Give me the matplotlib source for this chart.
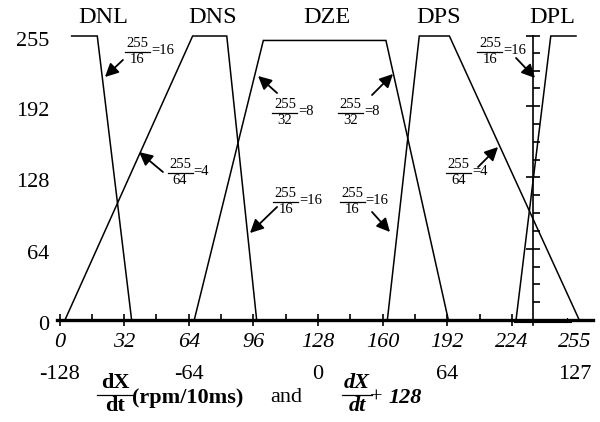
import matplotlib
matplotlib.use("Agg")
import matplotlib.pyplot as plt
import matplotlib.transforms as mtransforms
from matplotlib.ticker import FixedLocator

plt.rcParams['font.family'] = ['Liberation Serif', 'DejaVu Serif']

# membership functions (x: 0..255, degree: 0..255)
dnl_x = [6, 18.7, 35.7]
dnl_y = [255, 255, 0]
dns_x = [2.7, 65.9, 82.8, 97.6]
dns_y = [0, 255, 255, 0]
dze_x = [66.7, 100.9, 161.6, 192.5]
dze_y = [0, 251, 251, 0]
dps_x = [162.3, 178.1, 193, 257.3]
dps_y = [0, 255, 255, 0]
dpl_x = [226, 243.2, 255.7]
dpl_y = [0, 255, 255]

names = ['DNL', 'DNS', 'DZE', 'DPS', 'DPL']
name_x = [21.5, 76, 132.4, 187.9, 243.8]

x_ticks = [0, 32, 64, 96, 128, 160, 192, 224, 255]
x_labels2 = ['-128', '-64', '0', '64', '127']
x_pos2 = [0, 64, 128, 192, 255]
y_ticks = [0, 64, 128, 192, 255]

# slope notes: (numerator, denominator, rhs, bar centre, arrow tail, arrow tip)
notes = [
    ('255', '16', '=16', (38.6, 240.6), (31.4, 233.5), (22.5, 218.2)),
    ('255', '64', '=4', (59.7, 132.0), (51.2, 132.9), (39.4, 150.8)),
    ('255', '32', '=8', (111.6, 185.9), (107.7, 203.8), (98.3, 219.1)),
    ('255', '32', '=8', (144.1, 185.9), (154.7, 202.0), (165.1, 220.9)),
    ('255', '64', '=4', (197.5, 132.0), (207.2, 137.4), (217.1, 155.3)),
    ('255', '16', '=16', (213.1, 240.6), (226.0, 235.3), (235.4, 217.3)),
    ('255', '16', '=16', (111.9, 106.0), (107.7, 101.5), (94.3, 78.1)),
    ('255', '16', '=16', (145.0, 106.0), (154.7, 97.0), (163.6, 79.0)),
]

fig = plt.figure(figsize=(6, 4.22), dpi=100)
ax = fig.add_axes([0, 0, 1, 1])
ax.set_xlim(-29.46, 267.57)
ax.set_ylim(-91.59, 287.33)

for xs, ys in [(dnl_x, dnl_y), (dns_x, dns_y), (dze_x, dze_y),
               (dps_x, dps_y), (dpl_x, dpl_y)]:
    ax.plot(xs, ys, color='black', lw=1.1, solid_joinstyle='miter')

for n, nx in zip(names, name_x):
    ax.text(nx, 271.2, n, ha='center', va='center', fontsize=17.5)

# axes: thick x axis at 0, a ticked vertical axis near x=234
ax.spines['top'].set_visible(False)
ax.spines['left'].set_visible(False)
ax.spines['left'].set_position(('data', -1.7))
ax.spines['bottom'].set_position(('data', 0))
ax.spines['bottom'].set_bounds(-1.2, 264)
ax.spines['bottom'].set_linewidth(2.4)
ax.spines['right'].set_position(('data', 234.4))
ax.spines['right'].set_bounds(-4.5, 255)
ax.spines['right'].set_linewidth(1.2)

ax.set_xticks(x_ticks)
ax.set_xticklabels([str(t) for t in x_ticks], fontstyle='italic', fontsize=16)
ax.xaxis.set_minor_locator(FixedLocator(list(range(16, 224, 32))))
ax.tick_params(axis='x', which='major', direction='inout', length=9, width=1.2, pad=5)
ax.tick_params(axis='x', which='minor', direction='in', length=4, width=1.2)
ax.xaxis.get_major_ticks()[-1].tick1line.set_visible(False)

ax.set_yticks(y_ticks)
ax.set_yticklabels([str(t) for t in y_ticks], fontsize=16)
ax.yaxis.set_minor_locator(FixedLocator(list(range(16, 256, 16))))
ax.tick_params(axis='y', which='major', left=False, right=True, labelleft=True,
               labelright=False, direction='inout', length=10, width=1.2, pad=0)
ax.tick_params(axis='y', which='minor', left=False, right=True,
               direction='out', length=5, width=1.2)
# the left numbers sit a little below their levels in the original
shift = mtransforms.ScaledTranslation(0, -3 / 100, fig.dpi_scale_trans)
for lab in ax.get_yticklabels():
    lab.set_transform(lab.get_transform() + shift)

# faint second base line on the right
ax.plot([225, 253], [-2.2, -2.2], color='black', lw=0.8)
ax.plot([251, 251], [-2.2, 1.5], color='black', lw=0.8)

for lab, px in zip(x_labels2, x_pos2):
    ax.text(px, -48.5, lab, ha='center', va='center', fontsize=16)


def frac(x, y, num, den, w, size, **kw):
    ax.plot([x - w / 2, x + w / 2], [y, y], color='black', lw=0.9)
    ax.annotate(num, (x, y), xytext=(0, 1.5), textcoords='offset points',
                ha='center', va='bottom', fontsize=size, **kw)
    ax.annotate(den, (x, y), xytext=(0, -1), textcoords='offset points',
                ha='center', va='top', fontsize=size, **kw)


for num, den, rhs, (bx, by), tail, tip in notes:
    frac(bx, by, num, den, 12.4, 10.5)
    ax.annotate(rhs, (bx + 6.6, by), xytext=(0, 1), textcoords='offset points',
                ha='left', va='center', fontsize=10.5)
    ax.annotate('', xy=tip, xytext=tail,
                arrowprops=dict(arrowstyle='-|>,head_length=0.8,head_width=0.4',
                                color='black', lw=1.3, shrinkA=0, shrinkB=0))

# x axis caption
frac(27.7, -67.3, 'dX', 'dt', 18.3, 16, fontweight='bold')
ax.text(35.9, -70.0, '(rpm/10ms)', ha='left', va='center', fontsize=16, fontweight='bold')
ax.text(104.2, -70.0, 'and', ha='left', va='center', fontsize=16)
frac(147.3, -67.3, 'dX', 'dt', 14.9, 16, fontweight='bold', fontstyle='italic')
ax.text(153.7, -70.0, '+', ha='left', va='center', fontsize=16)
ax.text(163.1, -70.0, '128', ha='left', va='center', fontsize=16,
        fontweight='bold', fontstyle='italic')

fig.savefig('out.png', dpi=100, facecolor='white')
